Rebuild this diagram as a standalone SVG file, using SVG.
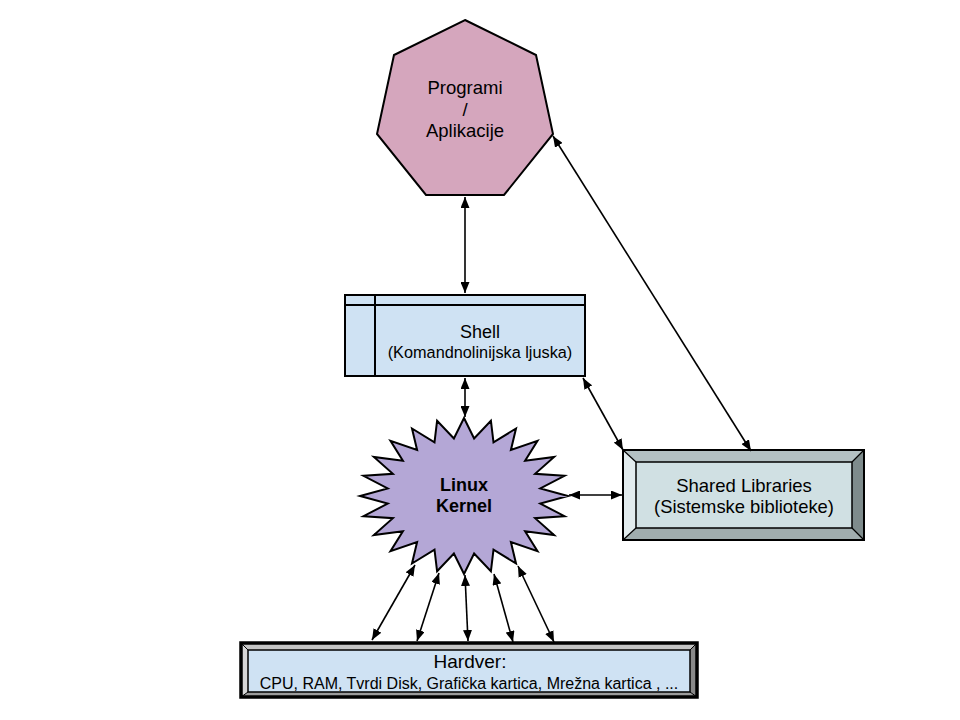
<svg xmlns="http://www.w3.org/2000/svg" width="960" height="720" viewBox="0 0 960 720">
<defs>
<marker id="ah" viewBox="0 0 11 9" refX="11" refY="4.5" markerWidth="11" markerHeight="9" markerUnits="userSpaceOnUse" orient="auto-start-reverse">
<path d="M0,0 L11,4.5 L0,9 z" fill="#000"/>
</marker>
<style>
.t{font-family:"Liberation Sans",Arial,sans-serif;fill:#000;text-anchor:middle}
.b{font-weight:bold}
.c{fill:none;stroke:#000;stroke-width:1.6;marker-start:url(#ah);marker-end:url(#ah)}
.o{stroke:#000;stroke-width:2;stroke-linejoin:miter}
</style>
</defs>
<rect width="960" height="720" fill="#fff"/>
<g id="programi">
<polygon class="o" fill="#d5a6bd" points="465,20 536,55 553,134 504,195 426,195 377,134 394,55"/>
<text class="t" x="465" y="94" font-size="18.5">Programi</text>
<text class="t" x="465" y="116" font-size="18.5">/</text>
<text class="t" x="465" y="137" font-size="18.5">Aplikacije</text>
</g>
<g id="shell">
<rect class="o" x="345" y="295" width="240" height="81" fill="#cfe2f3"/>
<line class="o" x1="345" y1="305" x2="585" y2="305"/>
<line class="o" x1="375" y1="295" x2="375" y2="376"/>
<text class="t" x="480" y="338" font-size="18">Shell</text>
<text class="t" x="480" y="358" font-size="16.3">(Komandnolinijska ljuska)</text>
</g>
<g id="kernel">
<polygon class="o" fill="#b4a7d6" points="464,418 474.1,438.5 490.9,420.7 493.5,442.4 516,428.5 510.9,450 537.5,440.8 525.1,460.7 554.1,457 535.1,473.8 564.5,475.8 540.3,488.4 568,496 540.3,503.6 564.5,516.2 535.1,518.2 554.1,535 525.1,531.3 537.5,551.2 510.9,542 516,563.5 493.5,549.6 490.9,571.3 474.1,553.5 464,574 453.9,553.5 437.1,571.3 434.5,549.6 412,563.5 417.1,542 390.5,551.2 402.9,531.3 373.9,535 392.9,518.2 363.5,516.2 387.7,503.6 360,496 387.7,488.4 363.5,475.8 392.9,473.8 373.9,457 402.9,460.7 390.5,440.8 417.1,450 412,428.5 434.5,442.4 437.1,420.7 453.9,438.5"/>
<text class="t b" x="464" y="491" font-size="18">Linux</text>
<text class="t b" x="464" y="512" font-size="18">Kernel</text>
</g>
<g id="shared">
<polygon fill="#e2ecee" points="623,450 636,462 636,528 623,540"/>
<polygon fill="#b3c0c2" points="623,450 864,450 852,462 636,462"/>
<polygon fill="#7e8b8c" points="864,450 864,540 852,528 852,462"/>
<polygon fill="#a0adae" points="623,540 636,528 852,528 864,540"/>
<rect x="636" y="462" width="216" height="66" fill="#d0e0e3" stroke="#000" stroke-width="1.5"/>
<rect class="o" x="623" y="450" width="241" height="90" fill="none"/>
<g stroke="#000" stroke-width="1.2">
<line x1="623" y1="450" x2="636" y2="462"/>
<line x1="864" y1="450" x2="852" y2="462"/>
<line x1="623" y1="540" x2="636" y2="528"/>
<line x1="864" y1="540" x2="852" y2="528"/>
</g>
<text class="t" x="744" y="492" font-size="18.5">Shared Libraries</text>
<text class="t" x="744" y="513" font-size="18.4">(Sistemske biblioteke)</text>
</g>
<g id="hardver">
<polygon fill="#c4c4c4" points="241,643 697,643 690,650 248,650"/>
<polygon fill="#d6d6d6" points="241,643 248,650 248,692 241,697"/>
<polygon fill="#8a8a8a" points="697,643 697,697 690,692 690,650"/>
<polygon fill="#9c9c9c" points="241,697 248,692 690,692 697,697"/>
<rect x="248" y="650" width="442" height="42" fill="#cfe2f3" stroke="#000" stroke-width="1.5"/>
<rect x="241" y="643" width="456" height="54" fill="none" stroke="#000" stroke-width="3.5"/>
<g stroke="#000" stroke-width="1">
<line x1="241" y1="643" x2="248" y2="650"/>
<line x1="697" y1="643" x2="690" y2="650"/>
<line x1="241" y1="697" x2="248" y2="692"/>
<line x1="697" y1="697" x2="690" y2="692"/>
</g>
<text class="t" x="470" y="668" font-size="19">Hardver:</text>
<text class="t" x="469" y="689" font-size="16">CPU, RAM, Tvrdi Disk, Grafička kartica, Mrežna kartica , ...</text>
</g>
<g id="connectors">
<line class="c" x1="465" y1="197" x2="465" y2="293"/>
<line class="c" x1="553" y1="136" x2="751" y2="451"/>
<line class="c" x1="465" y1="378" x2="465" y2="417"/>
<line class="c" x1="583" y1="378" x2="623" y2="450"/>
<line class="c" x1="569" y1="495" x2="622" y2="495"/>
<line class="c" x1="415" y1="565" x2="372" y2="640"/>
<line class="c" x1="439" y1="573" x2="417" y2="641"/>
<line class="c" x1="465" y1="575" x2="468" y2="641"/>
<line class="c" x1="494" y1="574" x2="513" y2="642"/>
<line class="c" x1="518" y1="566" x2="554" y2="642"/>
</g>
</svg>
